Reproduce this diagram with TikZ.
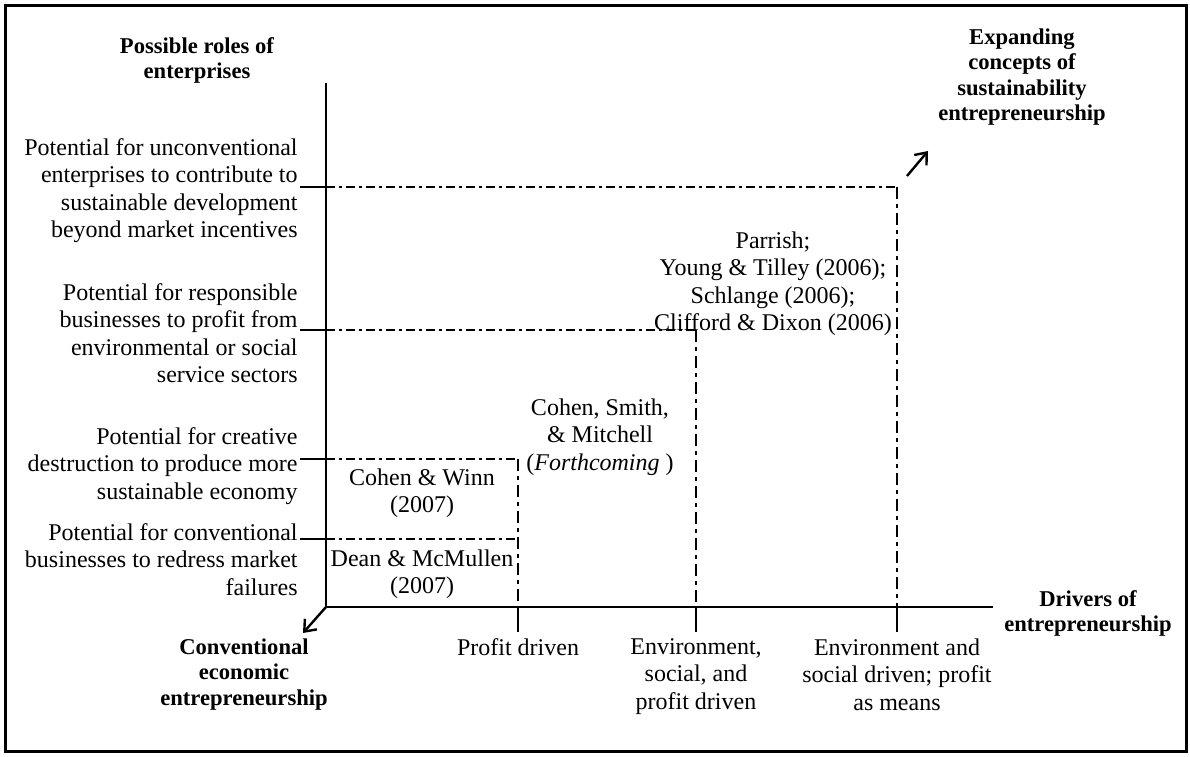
\documentclass[tikz,border=0pt]{standalone}
\usepackage{fontspec}
\setmainfont{Liberation Serif}
\usetikzlibrary{arrows.meta,positioning}
\tikzset{
  txt/.style={inner sep=0pt,font=\fontsize{12}{13.75}\selectfont},
  hdr/.style={inner sep=0pt,font=\fontsize{11.3}{12.8}\selectfont\bfseries,align=center,anchor=north},
  axisline/.style={line width=1.3pt},
  roleline/.style={line width=1pt,dash pattern=on 4.5pt off 2pt on 1.5pt off 2pt},
  rolevert/.style={line width=1.4pt,dash pattern=on 6pt off 2.5pt on 2pt off 2.5pt},
  barb/.style={line width=1.2pt,-{Straight Barb[length=5pt,width=8pt]}}
}

\begin{document}
\begin{tikzpicture}[x=0.5pt,y=-0.5pt]
  \useasboundingbox (0,0) rectangle (1190,756);
  \draw[line width=1.5pt] (5,5) rectangle (1186,751); % frame

  % axes
  \coordinate (O) at (326,607);
  \coordinate (ytop) at (326,83);
  \coordinate (xend) at (993,607);
  \draw[axisline] (ytop) -- (O) -- (xend);

  % ticks on the roles axis
  \coordinate (r1) at (300,187);  \coordinate (r1a) at (326,187);
  \coordinate (r2) at (300,330);  \coordinate (r2a) at (326,330);
  \coordinate (r3) at (300,459);  \coordinate (r3a) at (326,459);
  \coordinate (r4) at (300,539);  \coordinate (r4a) at (326,539);
  \draw[axisline] (r1) -- (r1a);
  \draw[axisline] (r2) -- (r2a);
  \draw[axisline] (r3) -- (r3a);
  \draw[axisline] (r4) -- (r4a);

  % ticks on the drivers axis
  \coordinate (d1) at (518,607);  \coordinate (d1b) at (518,632);
  \coordinate (d2) at (696,607);  \coordinate (d2b) at (696,632);
  \coordinate (d3) at (897,607);  \coordinate (d3b) at (897,632);
  \draw[axisline] (d1) -- (d1b);
  \draw[axisline] (d2) -- (d2b);
  \draw[axisline] (d3) -- (d3b);

  % nested regions
  \coordinate (c1) at (897,187);
  \coordinate (c2) at (696,330);
  \coordinate (c3) at (518,459);
  \coordinate (c4) at (518,539);
  \draw[roleline] (r4a) -- (c4);
  \draw[roleline] (r3a) -- (c3);
  \draw[roleline] (r2a) -- (c2);
  \draw[roleline] (r1a) -- (c1);
  \draw[rolevert] (c3) -- (d1);
  \draw[rolevert] (c2) -- (d2);
  \draw[rolevert] (c1) -- (d3);

  % arrows
  \coordinate (convtip) at (303,633);
  \coordinate (expfoot) at (907,176);
  \coordinate (exptip) at (928,151);
  \draw[barb] (O) -- (convtip);
  \draw[barb] (expfoot) -- (exptip);

  % axis headings
  \node[hdr] (hdroles) at (197,37) {Possible roles of\\enterprises};
  \node[hdr] (hdexpand) at (1022,28) {Expanding\\concepts of\\sustainability\\entrepreneurship};
  \node[hdr] (hddrivers) at (1088,590) {Drivers of\\entrepreneurship};
  \node[hdr] (hdconv) at (244,638) {Conventional\\economic\\entrepreneurship};

  % roles
  \node[txt,align=right,anchor=north east] (lblunconv) at (298,138)
    {Potential for unconventional\\enterprises to contribute to\\sustainable development\\beyond market incentives};
  \node[txt,align=right,anchor=north east] (lblresp) at (298,283)
    {Potential for responsible\\businesses to profit from\\environmental or social\\service sectors};
  \node[txt,align=right,anchor=north east] (lblcreative) at (298,427)
    {Potential for creative\\destruction to produce more\\sustainable economy};
  \node[txt,align=right,anchor=north east] (lblconv) at (298,523)
    {Potential for conventional\\businesses to redress market\\failures};

  % drivers
  \node[txt,align=center,anchor=north] (lblprofit) at (518,638) {Profit driven};
  \node[txt,align=center,anchor=north] (lblenvsoc) at (696,638) {Environment,\\social, and\\profit driven};
  \node[txt,align=center,anchor=north] (lblenvmeans) at (897,638) {Environment and\\social driven; profit\\as means};

  % references
  \node[txt,align=center,anchor=north] (refwinn) at (422,468) {Cohen \& Winn\\(2007)};
  \node[txt,align=center,anchor=north] (refdean) at (422,549) {Dean \& McMullen\\(2007)};
  \node[txt,align=center,anchor=north] (refsmith) at (600,398) {Cohen, Smith,\\\& Mitchell\\(\textit{Forthcoming} )};
  \node[txt,align=center,anchor=north] (refparrish) at (773,231)
    {Parrish;\\Young \& Tilley (2006);\\Schlange (2006);\\Clifford \& Dixon (2006)};
\end{tikzpicture}
\end{document}
